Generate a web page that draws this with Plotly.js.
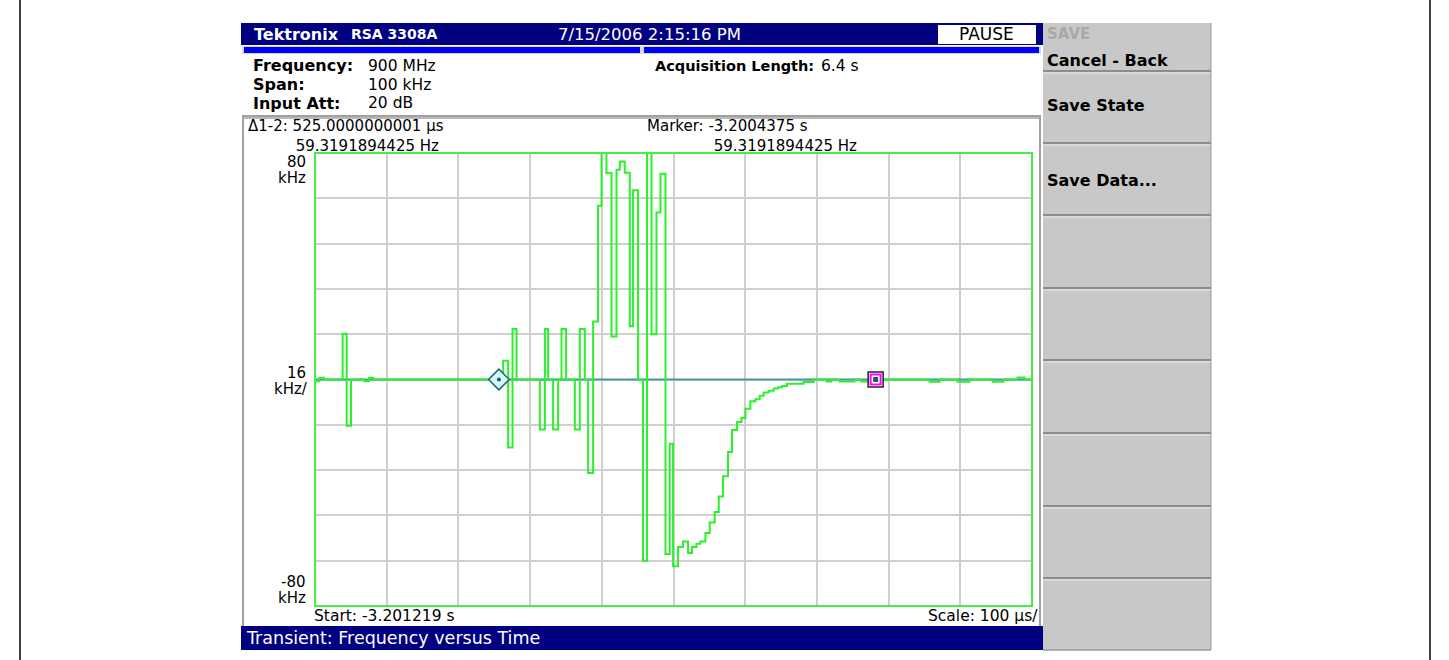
<!DOCTYPE html>
<html>
<head>
<meta charset="utf-8">
<script src="https://cdn.plot.ly/plotly-3.0.1.min.js"></script>
<style>html,body{margin:0;padding:0;background:#fff;}#chart{width:1449px;height:660px;}</style>
</head>
<body>
<div id="chart"></div>
<script>
// ---- data: step trace, time (µs from start) and frequency (kHz) ----
const timeUs = [0, 6, 12.5, 38.6, 44.2, 50.2, 68.7, 75.3, 81.3,
  262.4, 269.4, 275.5, 281.1, 313.6, 320.6, 325.2, 332.1, 339.1, 343.8, 350.2,
  362.4, 369.3, 376.3, 380.9, 387.9, 394.8, 399.6, 406.5, 413.5, 420.5, 425.1,
  432.0, 439.0, 443.6, 450.6, 457.5, 463.1, 469.3, 476.2, 481.8, 488.8, 494.8,
  499.4, 506.3, 513.3, 520.3, 525.8, 532.0, 537.5, 544.5, 550.5, 557.5, 563.1,
  569.1, 576.0, 581.6, 588.6, 594.7, 600.3, 607.2, 614.2, 620.2, 625.8, 632.7,
  639.7, 645.7, 651.3, 658.3, 681.5, 695.5, 713.2, 720.1, 731.7, 752.6, 761.9,
  771.1, 857.1, 871.1, 896.2, 912.9, 945.3, 960.2, 979.8, 989.5, 1000];
const freqKHz = [-0.6, 0.6, 0, 16.2, -16.3, 0, -0.6, 0.6, 0,
  6.6, -24, 17.8, 0, -17.7, 17.8, 0, -17.7, 0, 17.8, 0,
  -17.7, 17.8, 0, -33, 20.5, 61.4, 80, 72.9, 15.2, 74.1, 77,
  73, 18.8, 66.8, 0, -64, 80, 16, 59, 72.7, -61.6, -22.7,
  -66, -59.2, -57.2, -61.3, -59.2, -58, -57.2, -54.2, -50.5, -46.8, -41.3,
  -34.2, -25.6, -17.8, -15, -13.6, -10.3, -7.7, -7, -5.7, -4.6, -4,
  -3.2, -2.7, -2.3, -1.5, -0.9, 0, -0.7, 0, -0.7, 0, -0.7,
  0, -0.8, 0, -0.8, 0, -0.8, 0, 0.7, 0, 0];
const marker1 = {t: 256.5, f: 0};
const marker2 = {t: 781.9, f: 0};
const xRange = [0, 1000];
const yRange = [-80, 80];

// ---- text content ----
const headerLeft = "Tektronix";
const headerModel = "RSA 3308A";
const headerDate = "7/15/2006 2:15:16 PM";
const statusText = "PAUSE";
const infoLabels = ["Frequency:", "Span:", "Input Att:"];
const infoValues = ["900 MHz", "100 kHz", "20 dB"];
const acqLabel = "Acquisition Length:";
const acqValue = "6.4 s";
const deltaText = ["Δ1-2: 525.0000000001 µs", "59.3191894425 Hz"];
const markerText = ["Marker: -3.2004375 s", "59.3191894425 Hz"];
const startText = "Start: -3.201219 s";
const scaleText = "Scale: 100 µs/";
const footerText = "Transient: Frequency versus Time";
const menuTitle = "SAVE";
const menuItems = ["Cancel - Back", "Save State", "Save Data..."];

// ---- geometry helpers (pixel -> paper) ----
const L = 315, R = 1032, T = 153, B = 606;
const px = x => (x - L) / (R - L);
const py = y => (B - y) / (B - T);
const FONT = "DejaVu Sans, Verdana, sans-serif";

const shapes = [];
function rect(x0, y0, x1, y1, fill, line, lw, layer) {
  shapes.push({type: 'rect', xref: 'paper', yref: 'paper', x0: px(x0), x1: px(x1), y0: py(y1), y1: py(y0),
    fillcolor: fill || 'rgba(0,0,0,0)', line: {color: line || 'rgba(0,0,0,0)', width: lw || 0}, layer: layer || 'below'});
}
function hline(x0, x1, y, color, w, layer) {
  shapes.push({type: 'line', xref: 'paper', yref: 'paper', x0: px(x0), x1: px(x1), y0: py(y), y1: py(y),
    line: {color: color, width: w}, layer: layer || 'below'});
}
function vline(x, y0, y1, color, w, layer) {
  shapes.push({type: 'line', xref: 'paper', yref: 'paper', x0: px(x), x1: px(x), y0: py(y0), y1: py(y1),
    line: {color: color, width: w}, layer: layer || 'below'});
}

// outer frame
vline(20, 0, 660, '#000', 1.5);
vline(1430, 0, 660, '#000', 1.5);
// title bar
rect(241, 23, 1043, 45, '#000080');
rect(938, 25, 1036, 44, '#ffffff');
// blue progress bars
rect(242, 46, 1041, 54, '#d8d8d8');
rect(244, 47, 640, 53, '#0000ff');
rect(644, 47, 1039, 53, '#0000ff');
// info area separator
hline(242, 1041, 116, '#a0a0a0', 2);
// plot panel frame
vline(243, 117, 626, '#a0a0a0', 2);
vline(1040, 117, 626, '#a0a0a0', 2);
hline(243, 1040, 118, '#a0a0a0', 1.5);
// footer bar
rect(241, 626, 1043, 650, '#000080');
// right menu panel
rect(1043, 23, 1211, 650, '#c8c8c8');
[71, 143, 215, 288, 360, 433, 506, 578].forEach(y => {
  hline(1043, 1211, y, '#8c8c8c', 2);
  hline(1043, 1211, y + 2, '#ececec', 1);
});
hline(1043, 1211, 650, '#999999', 1.5);
vline(1211, 23, 650, '#999999', 1);
// plot border (green)
rect(L, T, R, B, null, '#44ee44', 2, 'above');

const ann = [];
function txt(x, y, s, opt) {
  opt = opt || {};
  ann.push({xref: 'paper', yref: 'paper', x: px(x), y: py(y), text: s, showarrow: false,
    xanchor: opt.anchor || 'left', yanchor: 'middle', align: 'left',
    font: {family: FONT, size: opt.size || 16, color: opt.color || '#000'}});
}
const bold = s => '<b>' + s + '</b>';
const indent = n => '&nbsp;'.repeat(n);

txt(252, 34, bold(headerLeft), {color: '#fff', size: 16});
txt(349, 34, bold(headerModel), {color: '#fff', size: 14});
txt(556, 34, headerDate, {color: '#fff', size: 16.5});
txt(986, 34, statusText, {anchor: 'center', size: 17});
infoLabels.forEach((s, i) => txt(251, 66 + i * 18.5, bold(s), {size: 16}));
infoValues.forEach((s, i) => txt(366, 66 + i * 18.5, s, {size: 15.5}));
txt(653, 66, bold(acqLabel), {size: 14.5});
txt(819, 66, acqValue, {size: 15.5});
txt(246, 136, deltaText[0] + '<br>' + indent(10) + deltaText[1], {size: 15});
txt(645, 136, markerText[0] + '<br>' + indent(14) + markerText[1], {size: 15});
txt(308, 162, '80', {anchor: 'right', size: 15});
txt(308, 178, 'kHz', {anchor: 'right', size: 15});
txt(308, 373, '16', {anchor: 'right', size: 15});
txt(310, 389, 'kHz/', {anchor: 'right', size: 15});
txt(308, 582, '-80', {anchor: 'right', size: 15});
txt(308, 598, 'kHz', {anchor: 'right', size: 15});
txt(312, 616, startText, {size: 15.5});
txt(1040, 616, scaleText, {anchor: 'right', size: 15.5});
txt(244, 638, footerText, {color: '#fff', size: 17.5});
txt(1045, 34, bold(menuTitle), {color: '#a8a8a8', size: 15});
txt(1045, 60, bold(menuItems[0]), {size: 16});
txt(1045, 106, bold(menuItems[1]), {size: 16});
txt(1045, 180, bold(menuItems[2]), {size: 16});

const traces = [
  {x: xRange, y: [0, 0], mode: 'lines', line: {color: '#4a96a6', width: 2}, hoverinfo: 'skip'},
  {x: timeUs, y: freqKHz, mode: 'lines', line: {color: '#2cf02c', width: 2, shape: 'hv'}, hoverinfo: 'skip'},
  {x: [marker1.t], y: [marker1.f], mode: 'markers',
   marker: {symbol: 'diamond', size: 16, color: '#d6f8f8', line: {color: '#1a6676', width: 1.5}}},
  {x: [marker1.t], y: [marker1.f], mode: 'markers',
   marker: {symbol: 'circle', size: 4, color: '#1a5a6a'}},
  {x: [marker2.t], y: [marker2.f], mode: 'markers',
   marker: {symbol: 'square', size: 15, color: '#ffffff', line: {color: '#222222', width: 1.5}}},
  {x: [marker2.t], y: [marker2.f], mode: 'markers',
   marker: {symbol: 'square-open', size: 10, color: '#ff00ff', line: {color: '#ff00ff', width: 2}}},
  {x: [marker2.t], y: [marker2.f], mode: 'markers',
   marker: {symbol: 'square', size: 5, color: '#1a5a6a'}}
];

const layout = {
  width: 1449, height: 660,
  margin: {l: L, r: 1449 - R, t: T, b: 660 - B, pad: 0},
  paper_bgcolor: '#ffffff', plot_bgcolor: '#ffffff',
  showlegend: false,
  xaxis: {range: xRange, dtick: 100, tick0: 0, showticklabels: false, ticks: '',
    showgrid: true, gridcolor: '#cfcfcf', gridwidth: 2, zeroline: false, showline: false, fixedrange: true},
  yaxis: {range: yRange, dtick: 16, tick0: -80, showticklabels: false, ticks: '',
    showgrid: true, gridcolor: '#cfcfcf', gridwidth: 2, zeroline: false, showline: false, fixedrange: true},
  shapes: shapes,
  annotations: ann
};
Plotly.newPlot('chart', traces, layout, {staticPlot: true, displayModeBar: false});
</script>
</body>
</html>
